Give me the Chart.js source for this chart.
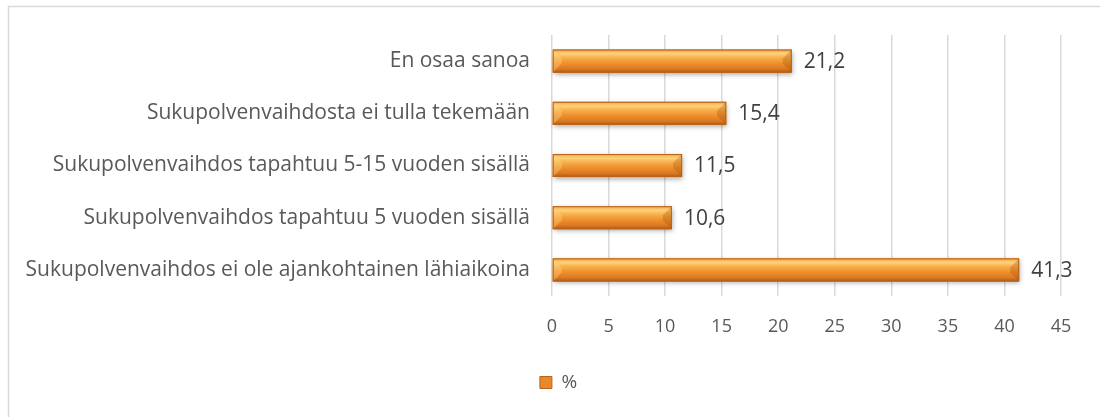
<!DOCTYPE html>
<html>
<head>
<meta charset="utf-8">
<script src="https://cdn.jsdelivr.net/npm/chart.js@4"></script>
<style>
  html, body { margin: 0; padding: 0; background: #fff; }
  #wrap { position: relative; width: 1100px; height: 417px; }
</style>
</head>
<body>
<div id="wrap"><canvas id="c" width="1100" height="417"></canvas></div>
<script>
const categories = [
  "En osaa sanoa",
  "Sukupolvenvaihdosta ei tulla tekemään",
  "Sukupolvenvaihdos tapahtuu 5-15 vuoden sisällä",
  "Sukupolvenvaihdos tapahtuu 5 vuoden sisällä",
  "Sukupolvenvaihdos ei ole ajankohtainen lähiaikoina"
];
const percentValues = [21.2, 15.4, 11.5, 10.6, 41.3];
const seriesName = "%";
const xTicks = [0, 5, 10, 15, 20, 25, 30, 35, 40, 45];

const FONT = "'Open Sans', sans-serif";
const TEXT = "#595959";

const framePlugin = {
  id: 'frame',
  beforeDraw(chart) {
    const ctx = chart.ctx;
    ctx.save();
    ctx.strokeStyle = '#d9d9d9';
    ctx.lineWidth = 1.5;
    ctx.beginPath();
    ctx.moveTo(8.5, chart.height);
    ctx.lineTo(8.5, 6.5);
    ctx.lineTo(chart.width, 6.5);
    ctx.stroke();
    ctx.restore();
  },
  afterLayout(chart) {
    if (chart.legend) {
      chart.legend.left += 28;
      chart.legend.right += 28;
    }
  }
};

const bevelPlugin = {
  id: 'bevel',
  afterDatasetsDraw(chart) {
    const ctx = chart.ctx;
    const meta = chart.getDatasetMeta(0);
    meta.data.forEach((bar, i) => {
      const p = bar.getProps(['x', 'y', 'base', 'height'], true);
      const x0 = p.base, x1 = p.x, h = p.height;
      const y0 = p.y - h / 2, y1 = p.y + h / 2;
      ctx.save();
      ctx.shadowColor = 'rgba(0,0,0,0.35)';
      ctx.shadowBlur = 5;
      ctx.shadowOffsetX = 1;
      ctx.shadowOffsetY = 2;
      ctx.fillStyle = '#D9781E';
      ctx.fillRect(x0, y0, x1 - x0, h);
      ctx.restore();
      ctx.save();
      const g = ctx.createLinearGradient(0, y0, 0, y1);
      g.addColorStop(0, '#F4A542');
      g.addColorStop(0.18, '#FDD27A');
      g.addColorStop(0.35, '#F8B04C');
      g.addColorStop(0.6, '#EE8F2C');
      g.addColorStop(0.85, '#DC7720');
      g.addColorStop(1, '#A95A15');
      ctx.fillStyle = g;
      ctx.fillRect(x0, y0, x1 - x0, h);
      const b = Math.min(h * 0.4, 9);
      ctx.fillStyle = 'rgba(255,220,140,0.35)';
      ctx.beginPath();
      ctx.moveTo(x0, y0); ctx.lineTo(x0 + b, y0 + b); ctx.lineTo(x0 + b, y1 - b); ctx.lineTo(x0, y1); ctx.closePath();
      ctx.fill();
      ctx.fillStyle = 'rgba(160,80,10,0.30)';
      ctx.beginPath();
      ctx.moveTo(x1, y0); ctx.lineTo(x1 - b, y0 + b); ctx.lineTo(x1 - b, y1 - b); ctx.lineTo(x1, y1); ctx.closePath();
      ctx.fill();
      ctx.strokeStyle = '#B8641A';
      ctx.lineWidth = 1;
      ctx.strokeRect(x0 + 0.5, y0 + 0.5, x1 - x0 - 1, h - 1);
      ctx.fillStyle = '#404040';
      ctx.font = "21px " + FONT;
      ctx.textAlign = 'left';
      ctx.textBaseline = 'middle';
      const v = chart.data.datasets[0].data[i];
      ctx.fillText(v.toFixed(1).replace('.', ','), x1 + 12, p.y + 1);
      ctx.restore();
    });
  }
};

new Chart(document.getElementById('c'), {
  type: 'bar',
  data: {
    labels: categories,
    datasets: [{
      label: seriesName,
      data: percentValues,
      backgroundColor: '#E88A2C',
      borderColor: '#B8641A',
      borderWidth: 1,
      barPercentage: 0.44,
      categoryPercentage: 1.0
    }]
  },
  options: {
    indexAxis: 'y',
    responsive: false,
    animation: false,
    devicePixelRatio: 1,
    layout: { padding: { left: 0, right: 39, top: 35, bottom: 15 } },
    plugins: {
      legend: {
        display: true,
        position: 'bottom',
        labels: {
          boxWidth: 12,
          boxHeight: 12,
          padding: 10,
          color: TEXT,
          font: { family: FONT, size: 19 }
        }
      },
      tooltip: { enabled: false }
    },
    scales: {
      x: {
        min: 0,
        max: 45,
        afterBuildTicks(scale) { scale.ticks = xTicks.map(v => ({ value: v })); },
        afterFit(scale) { scale.height = 67; },
        grid: { color: '#d9d9d9', lineWidth: 1.5, drawTicks: false },
        border: { display: false },
        ticks: {
          padding: 20,
          color: TEXT,
          font: { family: FONT, size: 18 }
        }
      },
      y: {
        afterFit(scale) { scale.width = 552; },
        grid: { display: false, drawTicks: false },
        border: { display: false },
        ticks: {
          padding: 22,
          color: TEXT,
          font: { family: FONT, size: 21 }
        }
      }
    }
  },
  plugins: [framePlugin, bevelPlugin]
});
</script>
</body>
</html>
